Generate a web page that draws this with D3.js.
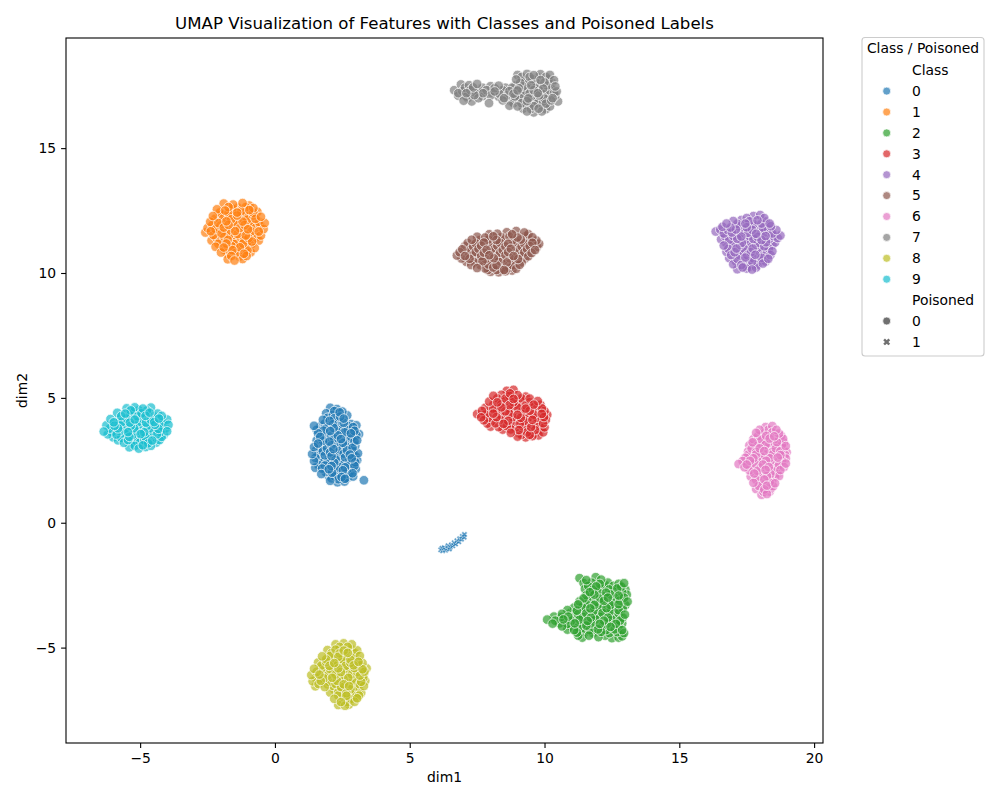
<!DOCTYPE html>
<html>
<head>
<meta charset="utf-8">
<script src="https://cdn.jsdelivr.net/npm/d3@7"></script>
<style>
  html, body { margin: 0; padding: 0; background: #fff; }
  svg { display: block; }
  text { font-family: "DejaVu Sans", sans-serif; fill: #000; }
</style>
</head>
<body>
<svg id="chart" width="1000" height="800"></svg>
<script>
var classNames = ['0','1','2','3','4','5','6','7','8','9'];
var classColors = ['#1f77b4','#ff7f0e','#2ca02c','#d62728','#9467bd','#8c564b','#e377c2','#7f7f7f','#bcbd22','#17becf'];
var poisonedNames = ['0','1'];
var xTicks = [-5,0,5,10,15,20];
var yTicks = [-5,0,5,10,15];

// cluster by cluster (dim1, dim2)
var class0 = [[2.05,4.6],[2.3,4.55],[2.5,4.45],[1.9,4.38],[2.15,4.32],[2.42,4.25],[2.68,4.3],[1.78,4.12],[2.03,4.08],[2.3,4.05],[2.55,4.0],[2.82,3.95],[3.02,3.9],[1.45,3.88],[1.68,3.85],[1.92,3.82],[2.18,3.8],[2.44,3.76],[2.7,3.72],[2.95,3.68],[3.12,3.55],[1.6,3.58],[1.84,3.55],[2.08,3.52],[2.33,3.5],[2.58,3.47],[2.84,3.42],[3.05,3.3],[1.55,3.3],[1.78,3.28],[2.02,3.25],[2.27,3.22],[2.52,3.2],[2.76,3.17],[2.98,3.08],[1.45,3.03],[1.68,3.0],[1.93,2.98],[2.17,2.95],[2.42,2.93],[2.67,2.9],[2.9,2.85],[3.08,2.78],[1.38,2.75],[1.6,2.73],[1.85,2.7],[2.1,2.67],[2.35,2.65],[2.6,2.62],[2.85,2.58],[3.05,2.5],[1.45,2.47],[1.7,2.45],[1.95,2.42],[2.2,2.4],[2.45,2.37],[2.72,2.33],[2.95,2.28],[1.5,2.2],[1.75,2.17],[2.0,2.14],[2.27,2.12],[2.52,2.1],[2.78,2.05],[3.0,2.15],[1.72,1.95],[1.98,1.88],[2.22,1.85],[2.47,1.83],[2.7,1.8],[2.05,1.68],[2.32,1.62],[2.58,1.65],[2.9,1.85],[3.3,1.7]];
var class0b = [[2.2,4.47],[2.4,4.42],[1.95,4.2],[2.2,4.18],[2.55,4.17],[1.85,3.97],[2.15,3.94],[2.42,3.92],[2.7,3.88],[2.9,3.83],[1.55,3.72],[1.8,3.69],[2.05,3.67],[2.3,3.65],[2.58,3.62],[2.82,3.58],[3.02,3.52],[1.68,3.44],[1.92,3.4],[2.2,3.37],[2.45,3.35],[2.7,3.32],[2.95,3.25],[1.6,3.17],[1.85,3.13],[2.1,3.1],[2.38,3.08],[2.63,3.05],[2.88,3.0],[1.52,2.89],[1.78,2.86],[2.05,2.82],[2.3,2.8],[2.55,2.77],[2.78,2.73],[3.0,2.65],[1.5,2.6],[1.75,2.58],[2.0,2.55],[2.25,2.53],[2.5,2.5],[2.75,2.47],[2.98,2.42],[1.6,2.32],[1.85,2.29],[2.1,2.27],[2.35,2.25],[2.6,2.22],[2.85,2.18],[1.88,2.03],[2.12,2.0],[2.38,1.98],[2.62,1.95],[2.88,1.98],[2.1,1.78],[2.35,1.74],[2.6,1.76]];
var class1 = [[-1.9,12.78],[-1.55,12.74],[-1.2,12.8],[-0.95,12.7],[-2.15,12.55],[-1.85,12.5],[-1.55,12.56],[-1.25,12.48],[-0.95,12.52],[-0.65,12.45],[-2.3,12.28],[-2.0,12.33],[-1.7,12.26],[-1.4,12.3],[-1.1,12.24],[-0.8,12.3],[-0.52,12.25],[-2.4,12.05],[-2.1,12.0],[-1.8,12.07],[-1.5,12.02],[-1.2,12.06],[-0.9,12.0],[-0.6,12.05],[-0.38,12.0],[-2.5,11.8],[-2.2,11.76],[-1.9,11.82],[-1.6,11.78],[-1.3,11.8],[-1.0,11.75],[-0.7,11.82],[-0.42,11.76],[-2.58,11.62],[-2.28,11.52],[-1.98,11.58],[-1.68,11.53],[-1.38,11.56],[-1.08,11.5],[-0.78,11.55],[-0.52,11.5],[-2.35,11.3],[-2.05,11.28],[-1.75,11.33],[-1.45,11.27],[-1.15,11.31],[-0.85,11.26],[-0.6,11.3],[-2.2,11.05],[-1.9,11.02],[-1.6,11.07],[-1.3,11.03],[-1.0,11.05],[-0.75,11.0],[-2.0,10.82],[-1.75,10.76],[-1.45,10.8],[-1.15,10.77],[-0.9,10.83],[-1.75,10.55],[-1.5,10.5],[-1.2,10.56]];
var class1b = [[-1.72,12.64],[-1.38,12.62],[-1.08,12.64],[-0.8,12.6],[-2.05,12.42],[-1.72,12.4],[-1.4,12.42],[-1.1,12.38],[-0.8,12.41],[-2.22,12.17],[-1.92,12.18],[-1.62,12.15],[-1.32,12.17],[-1.02,12.14],[-0.72,12.17],[-2.32,11.92],[-2.02,11.9],[-1.72,11.93],[-1.42,11.9],[-1.12,11.92],[-0.82,11.9],[-0.55,11.92],[-2.38,11.67],[-2.08,11.68],[-1.78,11.66],[-1.48,11.68],[-1.18,11.65],[-0.88,11.67],[-0.6,11.66],[-2.18,11.42],[-1.88,11.44],[-1.58,11.41],[-1.28,11.43],[-0.98,11.4],[-0.7,11.42],[-2.1,11.17],[-1.8,11.18],[-1.48,11.16],[-1.18,11.18],[-0.88,11.15],[-1.88,10.93],[-1.58,10.92],[-1.28,10.94],[-1.02,10.9],[-1.62,10.68],[-1.32,10.66],[-1.05,10.68]];
var class2 = [[11.3,-2.22],[11.9,-2.18],[12.1,-2.28],[11.45,-2.42],[11.75,-2.4],[12.05,-2.45],[12.35,-2.4],[12.75,-2.45],[12.95,-2.42],[11.5,-2.65],[11.8,-2.68],[12.1,-2.62],[12.4,-2.67],[12.7,-2.63],[13.0,-2.68],[11.55,-2.9],[11.85,-2.88],[12.15,-2.93],[12.45,-2.87],[12.75,-2.92],[13.05,-2.88],[11.3,-3.15],[11.6,-3.12],[11.9,-3.18],[12.2,-3.13],[12.5,-3.17],[12.8,-3.12],[13.08,-3.16],[11.1,-3.4],[11.4,-3.38],[11.7,-3.43],[12.0,-3.37],[12.3,-3.42],[12.6,-3.38],[12.9,-3.42],[10.65,-3.65],[10.95,-3.62],[11.25,-3.67],[11.55,-3.63],[11.85,-3.67],[12.15,-3.62],[12.45,-3.66],[12.75,-3.63],[12.98,-3.68],[10.1,-3.88],[10.4,-3.92],[10.7,-3.87],[11.0,-3.92],[11.3,-3.88],[11.6,-3.93],[11.9,-3.87],[12.2,-3.92],[12.5,-3.88],[12.8,-3.92],[10.65,-4.15],[10.95,-4.13],[11.25,-4.18],[11.55,-4.12],[11.85,-4.17],[12.15,-4.13],[12.45,-4.17],[12.75,-4.12],[11.2,-4.4],[11.5,-4.38],[11.8,-4.42],[12.1,-4.37],[12.4,-4.42],[12.7,-4.38],[12.95,-4.42],[11.4,-4.6],[12.0,-4.58],[12.5,-4.62],[12.75,-4.6]];
var class2b = [[11.55,-2.3],[12.25,-2.5],[11.62,-2.53],[11.92,-2.55],[12.55,-2.53],[12.85,-2.56],[11.68,-2.78],[11.98,-2.77],[12.28,-2.8],[12.58,-2.76],[12.88,-2.79],[11.45,-3.03],[11.72,-3.0],[12.05,-3.04],[12.35,-3.0],[12.65,-3.03],[12.95,-3.0],[11.25,-3.27],[11.55,-3.26],[11.85,-3.29],[12.15,-3.25],[12.45,-3.29],[12.75,-3.26],[13.0,-3.3],[10.85,-3.5],[11.2,-3.52],[11.5,-3.5],[11.82,-3.53],[12.12,-3.5],[12.45,-3.53],[12.75,-3.5],[10.35,-3.76],[10.62,-3.78],[10.88,-3.76],[11.12,-3.79],[11.42,-3.77],[11.72,-3.8],[12.05,-3.77],[12.35,-3.8],[12.65,-3.77],[12.9,-3.8],[10.3,-4.04],[10.55,-4.03],[10.85,-4.05],[11.12,-4.03],[11.42,-4.05],[11.72,-4.03],[12.05,-4.05],[12.35,-4.03],[12.65,-4.05],[12.88,-4.03],[10.85,-4.28],[11.1,-4.3],[11.38,-4.28],[11.68,-4.3],[11.98,-4.27],[12.28,-4.3],[12.6,-4.27],[12.88,-4.3],[11.25,-4.52],[11.65,-4.52],[12.25,-4.52],[12.88,-4.55]];
var class3 = [[8.6,5.28],[8.85,5.32],[8.1,5.08],[8.4,5.12],[8.7,5.07],[9.0,5.11],[9.3,5.05],[7.95,4.85],[8.25,4.82],[8.55,4.87],[8.85,4.83],[9.15,4.86],[9.45,4.82],[9.75,4.87],[7.8,4.6],[8.1,4.57],[8.4,4.62],[8.7,4.58],[9.0,4.61],[9.3,4.57],[9.6,4.62],[9.9,4.58],[7.5,4.35],[7.8,4.33],[8.1,4.37],[8.4,4.33],[8.7,4.36],[9.0,4.32],[9.3,4.37],[9.6,4.33],[9.9,4.36],[10.1,4.32],[7.75,4.1],[8.05,4.07],[8.35,4.12],[8.65,4.08],[8.95,4.11],[9.25,4.07],[9.55,4.12],[9.85,4.08],[10.05,4.12],[8.0,3.85],[8.3,3.83],[8.6,3.87],[8.9,3.82],[9.2,3.86],[9.5,3.83],[9.8,3.87],[10.0,3.82],[8.75,3.6],[9.05,3.58],[9.35,3.62],[9.65,3.58],[9.95,3.62],[9.0,3.45],[9.3,3.42],[9.55,3.47]];
var class3b = [[8.72,5.18],[8.25,4.98],[8.55,4.97],[8.85,4.96],[9.15,4.98],[9.45,4.97],[8.1,4.72],[8.4,4.74],[8.7,4.71],[9.0,4.73],[9.3,4.7],[9.6,4.73],[9.85,4.72],[7.68,4.48],[7.95,4.46],[8.25,4.49],[8.55,4.46],[8.85,4.48],[9.15,4.45],[9.45,4.48],[9.75,4.46],[10.0,4.47],[7.65,4.22],[7.92,4.2],[8.22,4.23],[8.52,4.21],[8.82,4.23],[9.12,4.2],[9.42,4.23],[9.72,4.2],[9.98,4.23],[7.88,3.97],[8.18,3.98],[8.48,3.96],[8.78,3.98],[9.08,3.95],[9.38,3.98],[9.68,3.95],[9.95,3.98],[8.45,3.73],[8.75,3.74],[9.05,3.71],[9.35,3.74],[9.65,3.71],[9.88,3.74],[9.15,3.52],[9.45,3.52],[9.78,3.5]];
var class4 = [[17.75,12.28],[18.0,12.32],[17.0,12.08],[17.3,12.12],[17.6,12.07],[17.9,12.11],[18.2,12.06],[16.6,11.85],[16.9,11.82],[17.2,11.87],[17.5,11.83],[17.8,11.86],[18.1,11.82],[18.4,11.87],[16.35,11.66],[16.65,11.58],[16.95,11.62],[17.25,11.57],[17.55,11.61],[17.85,11.57],[18.15,11.62],[18.45,11.58],[16.55,11.35],[16.85,11.33],[17.15,11.37],[17.45,11.33],[17.75,11.36],[18.05,11.32],[18.35,11.37],[18.65,11.4],[16.65,11.1],[16.95,11.07],[17.25,11.12],[17.55,11.08],[17.85,11.11],[18.15,11.07],[18.45,11.12],[16.75,10.85],[17.05,10.83],[17.35,10.87],[17.65,10.83],[17.95,10.86],[18.25,10.82],[18.45,10.87],[16.85,10.6],[17.15,10.57],[17.45,10.62],[17.75,10.58],[18.05,10.61],[18.3,10.57],[17.0,10.35],[17.3,10.32],[17.6,10.37],[17.9,10.33],[18.1,10.38],[17.15,10.15],[17.5,10.18],[17.7,10.14]];
var class4b = [[17.5,12.2],[18.15,12.2],[16.75,11.98],[17.15,11.97],[17.45,11.98],[17.75,11.96],[18.05,11.98],[18.35,11.98],[16.52,11.74],[16.8,11.72],[17.1,11.74],[17.4,11.72],[17.7,11.73],[18.0,11.71],[18.3,11.74],[18.6,11.72],[16.7,11.47],[17.0,11.48],[17.3,11.46],[17.6,11.48],[17.9,11.45],[18.2,11.48],[18.5,11.47],[18.75,11.5],[16.72,11.22],[17.02,11.23],[17.32,11.21],[17.62,11.23],[17.92,11.2],[18.22,11.23],[18.55,11.22],[16.82,10.97],[17.12,10.98],[17.42,10.96],[17.72,10.98],[18.02,10.95],[18.32,10.98],[16.92,10.72],[17.22,10.73],[17.52,10.71],[17.82,10.73],[18.12,10.7],[18.38,10.72],[17.1,10.47],[17.4,10.48],[17.7,10.46],[18.0,10.48],[18.2,10.46],[17.35,10.22],[17.6,10.25],[17.85,10.22]];
var class5 = [[8.6,11.63],[8.95,11.68],[9.25,11.62],[7.5,11.45],[7.8,11.42],[8.1,11.47],[8.4,11.43],[8.7,11.46],[9.0,11.42],[9.3,11.47],[9.55,11.43],[7.15,11.2],[7.45,11.18],[7.75,11.22],[8.05,11.18],[8.35,11.21],[8.65,11.17],[8.95,11.22],[9.25,11.18],[9.55,11.21],[9.8,11.17],[6.95,10.95],[7.25,10.93],[7.55,10.97],[7.85,10.93],[8.15,10.96],[8.45,10.92],[8.75,10.97],[9.05,10.93],[9.35,10.96],[9.65,10.92],[6.75,10.7],[7.05,10.68],[7.35,10.72],[7.65,10.68],[7.95,10.71],[8.25,10.67],[8.55,10.72],[8.85,10.68],[9.15,10.71],[9.4,10.67],[7.1,10.45],[7.4,10.43],[7.7,10.47],[8.0,10.43],[8.3,10.46],[8.6,10.42],[8.9,10.47],[9.15,10.43],[7.5,10.2],[7.8,10.18],[8.1,10.22],[8.4,10.18],[8.7,10.21],[8.95,10.17],[8.0,10.05],[8.3,10.03],[8.55,10.07]];
var class5b = [[7.95,11.55],[8.25,11.57],[8.8,11.55],[9.4,11.55],[7.3,11.33],[7.6,11.32],[7.92,11.34],[8.22,11.32],[8.52,11.34],[8.82,11.31],[9.12,11.34],[9.42,11.32],[9.7,11.3],[7.05,11.08],[7.35,11.07],[7.65,11.09],[7.95,11.06],[8.25,11.09],[8.55,11.06],[8.85,11.09],[9.15,11.06],[9.45,11.08],[9.72,11.05],[6.85,10.83],[7.15,10.82],[7.45,10.84],[7.75,10.81],[8.05,10.84],[8.35,10.81],[8.65,10.84],[8.95,10.81],[9.25,10.83],[9.52,10.8],[6.92,10.58],[7.22,10.57],[7.52,10.59],[7.82,10.56],[8.12,10.59],[8.42,10.56],[8.72,10.59],[9.02,10.56],[9.28,10.58],[7.28,10.32],[7.62,10.32],[7.92,10.34],[8.22,10.31],[8.52,10.34],[8.82,10.31],[9.08,10.33],[7.9,10.12],[8.22,10.12],[8.5,10.12],[8.8,10.1]];
var class6 = [[18.2,3.83],[18.45,3.87],[17.85,3.6],[18.15,3.58],[18.45,3.62],[18.7,3.57],[17.75,3.35],[18.05,3.33],[18.35,3.37],[18.65,3.33],[18.85,3.36],[17.6,3.1],[17.9,3.08],[18.2,3.12],[18.5,3.08],[18.8,3.11],[18.95,3.07],[17.55,2.85],[17.85,2.83],[18.15,2.87],[18.45,2.83],[18.75,2.86],[18.98,2.82],[17.45,2.6],[17.75,2.58],[18.05,2.62],[18.35,2.58],[18.65,2.61],[18.95,2.57],[17.2,2.35],[17.5,2.33],[17.8,2.37],[18.1,2.33],[18.4,2.36],[18.7,2.32],[18.95,2.37],[17.6,2.1],[17.9,2.08],[18.2,2.12],[18.5,2.08],[18.75,2.11],[17.65,1.85],[17.95,1.83],[18.25,1.87],[18.55,1.83],[18.7,1.87],[17.75,1.6],[18.05,1.58],[18.35,1.62],[18.55,1.58],[17.85,1.35],[18.15,1.33],[18.4,1.37],[18.05,1.12],[18.25,1.15]];
var class6b = [[18.3,3.72],[17.98,3.72],[18.6,3.72],[17.92,3.47],[18.22,3.48],[18.52,3.46],[18.78,3.48],[17.72,3.22],[18.02,3.23],[18.32,3.21],[18.62,3.23],[18.88,3.21],[17.68,2.97],[17.98,2.98],[18.28,2.96],[18.58,2.98],[18.85,2.96],[17.55,2.72],[17.85,2.73],[18.15,2.71],[18.45,2.73],[18.75,2.71],[18.92,2.72],[17.35,2.47],[17.62,2.48],[17.92,2.46],[18.22,2.48],[18.52,2.46],[18.82,2.48],[17.42,2.22],[17.72,2.23],[18.02,2.21],[18.32,2.23],[18.62,2.21],[18.88,2.23],[17.78,1.97],[18.08,1.98],[18.38,1.96],[18.65,1.98],[17.85,1.72],[18.15,1.73],[18.45,1.71],[17.95,1.47],[18.25,1.48],[18.48,1.46],[18.12,1.24],[18.35,1.25]];
var class7 = [[9.0,17.93],[9.35,17.97],[9.6,17.92],[9.85,17.96],[10.2,17.93],[8.95,17.75],[9.25,17.72],[9.55,17.77],[9.85,17.73],[10.15,17.76],[10.35,17.72],[8.9,17.5],[9.2,17.47],[9.5,17.52],[9.8,17.48],[10.1,17.51],[10.4,17.47],[6.9,17.55],[7.2,17.52],[7.5,17.57],[8.0,17.48],[8.3,17.5],[6.65,17.32],[6.95,17.28],[7.25,17.33],[7.55,17.29],[7.85,17.32],[8.15,17.27],[8.45,17.32],[8.7,17.28],[9.0,17.31],[9.3,17.27],[9.6,17.32],[9.9,17.28],[10.2,17.31],[10.45,17.27],[6.8,17.1],[7.1,17.07],[7.4,17.12],[7.7,17.08],[8.0,17.11],[8.3,17.06],[8.6,17.11],[8.9,17.07],[9.2,17.1],[9.5,17.06],[9.8,17.11],[10.1,17.07],[10.4,17.1],[7.0,16.9],[7.3,16.87],[8.45,16.91],[8.75,16.87],[9.05,16.91],[9.35,16.88],[9.65,16.91],[9.95,16.87],[10.25,16.91],[10.5,16.87],[8.7,16.7],[9.0,16.67],[9.3,16.72],[9.6,16.68],[9.9,16.71],[10.2,16.67],[9.35,16.47],[9.6,16.43],[9.9,16.47],[7.94,16.8]];
var class7b = [[9.15,17.85],[9.45,17.85],[9.75,17.84],[10.05,17.85],[9.1,17.62],[9.4,17.63],[9.7,17.61],[10.0,17.63],[10.28,17.61],[7.05,17.42],[7.35,17.43],[7.7,17.42],[8.15,17.4],[8.55,17.42],[8.8,17.42],[9.05,17.4],[9.35,17.4],[9.65,17.4],[9.95,17.39],[10.25,17.4],[6.8,17.2],[7.1,17.2],[7.42,17.22],[7.72,17.2],[8.02,17.22],[8.32,17.18],[8.85,17.18],[9.15,17.2],[9.45,17.19],[9.75,17.2],[10.05,17.18],[10.35,17.2],[7.15,17.0],[7.55,17.0],[8.5,17.0],[8.8,17.0],[9.1,17.0],[9.4,16.99],[9.7,17.0],[10.0,16.98],[10.3,17.0],[8.85,16.8],[9.15,16.8],[9.45,16.79],[9.75,16.8],[10.05,16.78],[9.2,16.58],[9.5,16.57],[9.78,16.58],[10.05,16.56]];
var class8 = [[2.25,-4.87],[2.55,-4.83],[2.85,-4.87],[1.95,-5.1],[2.25,-5.08],[2.55,-5.12],[2.85,-5.08],[3.05,-5.11],[1.75,-5.35],[2.05,-5.33],[2.35,-5.37],[2.65,-5.33],[2.95,-5.36],[3.15,-5.33],[1.6,-5.6],[1.9,-5.58],[2.2,-5.62],[2.5,-5.58],[2.8,-5.61],[3.1,-5.57],[3.25,-5.62],[1.45,-5.85],[1.75,-5.83],[2.05,-5.87],[2.35,-5.83],[2.65,-5.86],[2.95,-5.82],[3.25,-5.87],[3.4,-5.83],[1.35,-6.1],[1.65,-6.08],[1.95,-6.12],[2.25,-6.08],[2.55,-6.11],[2.85,-6.07],[3.15,-6.12],[3.3,-6.08],[1.4,-6.35],[1.7,-6.33],[2.0,-6.37],[2.3,-6.33],[2.6,-6.36],[2.9,-6.32],[3.2,-6.37],[3.35,-6.33],[1.5,-6.55],[1.85,-6.58],[2.15,-6.53],[2.45,-6.58],[2.75,-6.54],[3.05,-6.58],[3.3,-6.54],[2.05,-6.8],[2.35,-6.78],[2.65,-6.82],[2.95,-6.78],[3.2,-6.81],[2.2,-7.05],[2.5,-7.03],[2.8,-7.07],[3.05,-7.03],[2.35,-7.3],[2.6,-7.33],[2.75,-7.28]];
var class8b = [[2.4,-4.97],[2.7,-4.97],[2.1,-5.22],[2.4,-5.23],[2.7,-5.21],[2.98,-5.23],[1.9,-5.47],[2.2,-5.48],[2.5,-5.46],[2.8,-5.48],[3.05,-5.46],[1.72,-5.72],[2.02,-5.73],[2.32,-5.71],[2.62,-5.73],[2.92,-5.71],[3.18,-5.73],[1.55,-5.97],[1.85,-5.98],[2.15,-5.96],[2.45,-5.98],[2.75,-5.96],[3.05,-5.98],[3.32,-5.96],[1.52,-6.22],[1.82,-6.23],[2.12,-6.21],[2.42,-6.23],[2.72,-6.21],[3.02,-6.23],[3.28,-6.21],[1.62,-6.46],[1.95,-6.47],[2.25,-6.45],[2.55,-6.47],[2.85,-6.45],[3.15,-6.47],[2.2,-6.68],[2.5,-6.69],[2.8,-6.67],[3.1,-6.69],[2.35,-6.92],[2.65,-6.93],[2.95,-6.91],[3.12,-6.92],[2.45,-7.18],[2.7,-7.18],[2.95,-7.17]];
var class9 = [[-5.5,4.58],[-5.2,4.62],[-4.9,4.57],[-4.6,4.61],[-5.85,4.4],[-5.55,4.37],[-5.25,4.42],[-4.95,4.38],[-4.65,4.41],[-4.35,4.37],[-6.1,4.15],[-5.8,4.13],[-5.5,4.17],[-5.2,4.13],[-4.9,4.16],[-4.6,4.12],[-4.3,4.17],[-4.0,4.13],[-6.25,3.9],[-5.95,3.88],[-5.65,3.92],[-5.35,3.88],[-5.05,3.91],[-4.75,3.87],[-4.45,3.92],[-4.15,3.88],[-3.95,3.92],[-6.35,3.65],[-6.05,3.63],[-5.75,3.67],[-5.45,3.63],[-5.15,3.66],[-4.85,3.62],[-4.55,3.67],[-4.25,3.63],[-4.0,3.66],[-6.0,3.42],[-5.7,3.4],[-5.4,3.44],[-5.1,3.4],[-4.8,3.43],[-4.5,3.39],[-4.2,3.44],[-5.6,3.2],[-5.3,3.18],[-5.0,3.22],[-4.7,3.18],[-4.4,3.21],[-5.4,3.02],[-5.05,2.97],[-4.8,3.03]];
var class9b = [[-5.35,4.5],[-5.05,4.5],[-4.75,4.49],[-5.7,4.27],[-5.4,4.28],[-5.1,4.26],[-4.8,4.28],[-4.5,4.26],[-4.2,4.28],[-5.98,4.02],[-5.68,4.03],[-5.38,4.01],[-5.08,4.03],[-4.78,4.01],[-4.48,4.03],[-4.18,4.01],[-6.12,3.77],[-5.82,3.78],[-5.52,3.76],[-5.22,3.78],[-4.92,3.76],[-4.62,3.78],[-4.32,3.76],[-4.05,3.78],[-6.2,3.54],[-5.88,3.53],[-5.58,3.55],[-5.28,3.52],[-4.98,3.55],[-4.68,3.52],[-4.38,3.54],[-4.12,3.52],[-5.82,3.3],[-5.45,3.31],[-5.15,3.29],[-4.85,3.31],[-4.55,3.29],[-4.28,3.31],[-5.2,3.08],[-4.9,3.1],[-4.6,3.08]];
var poisoned0 = [[6.15,-1.08],[6.22,-1.12],[6.2,-1.02],[6.28,-1.0],[6.33,-1.1],[6.4,-1.03],[6.47,-1.05],[6.42,-0.92],[6.5,-0.98],[6.55,-0.88],[6.6,-0.92],[6.65,-0.8],[6.7,-0.85],[6.75,-0.72],[6.82,-0.76],[6.85,-0.64],[6.92,-0.66],[6.95,-0.55],[7.02,-0.58],[7.03,-0.47]];

var classPoints = [
  class0.concat(class0b), class1.concat(class1b), class2.concat(class2b), class3.concat(class3b),
  class4.concat(class4b), class5.concat(class5b), class6.concat(class6b), class7.concat(class7b),
  class8.concat(class8b), class9.concat(class9b)
];

var svg = d3.select('#chart');
var frame = {left: 66, right: 823, top: 38, bottom: 743};

var x = d3.scaleLinear().domain([-7.75, 20.33]).range([frame.left, frame.right]);
var y = d3.scaleLinear().domain([-8.82, 19.41]).range([frame.bottom, frame.top]);

// dots, not in row order so the overlaps look like the original
var dots = svg.append('g').attr('class', 'dots');
classPoints.forEach(function(points, c) {
  var order = d3.range(points.length).sort(function(a, b) {
    return (a * 37) % 101 - (b * 37) % 101;
  });
  dots.selectAll(null)
    .data(order.map(function(i) { return points[i]; }))
    .enter().append('circle')
    .attr('cx', function(d) { return x(d[0]); })
    .attr('cy', function(d) { return y(d[1]); })
    .attr('r', 4.8)
    .attr('fill', classColors[c])
    .attr('fill-opacity', 0.7)
    .attr('stroke', '#fff')
    .attr('stroke-opacity', 0.7)
    .attr('stroke-width', 1);
});

var xMark = d3.symbol().type(d3.symbolCross).size(22);
dots.selectAll('path.poisoned')
  .data(poisoned0)
  .enter().append('path')
  .attr('class', 'poisoned')
  .attr('d', xMark)
  .attr('transform', function(d) { return 'translate(' + x(d[0]) + ' ' + y(d[1]) + ') rotate(45)'; })
  .attr('fill', classColors[0])
  .attr('fill-opacity', 0.7)
  .attr('stroke', '#fff')
  .attr('stroke-opacity', 0.7)
  .attr('stroke-width', 0.6);

// axes
function styleAxis(g) {
  g.selectAll('text').style('font-size', '13.9px').style('font-family', '"DejaVu Sans", sans-serif').attr('fill', '#000');
  g.selectAll('line').attr('stroke', '#000').attr('stroke-width', 1.1);
  g.select('.domain').remove();
}
svg.append('g')
  .attr('transform', 'translate(0,' + frame.bottom + ')')
  .call(d3.axisBottom(x).tickValues(xTicks).tickSize(4.9).tickPadding(4.9))
  .call(styleAxis);
svg.append('g')
  .attr('transform', 'translate(' + frame.left + ',0)')
  .call(d3.axisLeft(y).tickValues(yTicks).tickSize(4.9).tickPadding(4.9))
  .call(styleAxis);

svg.append('rect')
  .attr('x', frame.left).attr('y', frame.top)
  .attr('width', frame.right - frame.left).attr('height', frame.bottom - frame.top)
  .attr('fill', 'none').attr('stroke', '#000').attr('stroke-width', 1.1);

svg.append('text')
  .attr('x', (frame.left + frame.right) / 2).attr('y', 29)
  .attr('text-anchor', 'middle').style('font-size', '16.6px')
  .text('UMAP Visualization of Features with Classes and Poisoned Labels');
svg.append('text')
  .attr('x', (frame.left + frame.right) / 2).attr('y', 782)
  .attr('text-anchor', 'middle').style('font-size', '13.9px')
  .text('dim1');
svg.append('text')
  .attr('transform', 'translate(26.5 ' + (frame.top + frame.bottom) / 2 + ') rotate(-90)')
  .attr('text-anchor', 'middle').style('font-size', '13.9px')
  .text('dim2');

// legend
var legend = svg.append('g').attr('class', 'legend');
legend.append('rect')
  .attr('x', 862).attr('y', 37.5).attr('width', 122).attr('height', 318.5).attr('rx', 3)
  .attr('fill', '#fff').attr('stroke', '#ccc').attr('stroke-width', 1.1);
legend.append('text')
  .attr('x', 923).attr('y', 53).attr('text-anchor', 'middle').style('font-size', '13.9px')
  .text('Class / Poisoned');

var rowStep = 20.9;
var rowTop = 75;
function legendLabel(row, label) {
  legend.append('text')
    .attr('x', 912).attr('y', rowTop + row * rowStep).style('font-size', '13.9px')
    .text(label);
}
legendLabel(0, 'Class');
classNames.forEach(function(name, i) {
  legendLabel(i + 1, name);
  legend.append('circle')
    .attr('cx', 886.7).attr('cy', rowTop - 4.8 + (i + 1) * rowStep).attr('r', 4)
    .attr('fill', classColors[i]).attr('fill-opacity', 0.7)
    .attr('stroke', '#fff').attr('stroke-opacity', 0.7).attr('stroke-width', 1);
});
legendLabel(11, 'Poisoned');
legendLabel(12, poisonedNames[0]);
legendLabel(13, poisonedNames[1]);
legend.append('circle')
  .attr('cx', 886.7).attr('cy', rowTop - 4.8 + 12 * rowStep).attr('r', 4)
  .attr('fill', '#333').attr('fill-opacity', 0.7)
  .attr('stroke', '#fff').attr('stroke-opacity', 0.7).attr('stroke-width', 1);
legend.append('path')
  .attr('d', d3.symbol().type(d3.symbolCross).size(30))
  .attr('transform', 'translate(886.7 ' + (rowTop - 4.8 + 13 * rowStep) + ') rotate(45)')
  .attr('fill', '#333').attr('fill-opacity', 0.7);
</script>
</body>
</html>
